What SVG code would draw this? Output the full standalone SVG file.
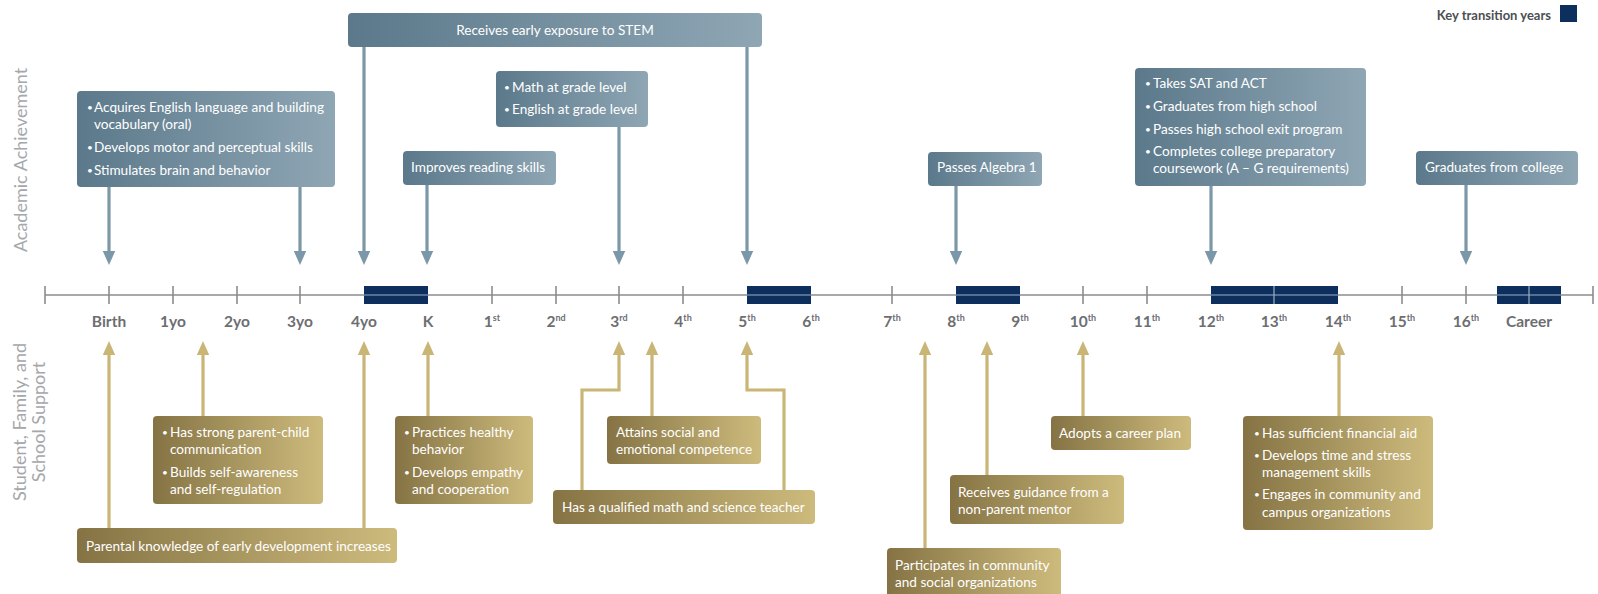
<svg xmlns="http://www.w3.org/2000/svg" width="1598" height="594" viewBox="0 0 1598 594">
<defs>
<linearGradient id="gBlue" x1="0" y1="0" x2="1" y2="0">
<stop offset="0" stop-color="#5b798b"/>
<stop offset="1" stop-color="#8fa6b4"/>
</linearGradient>
<linearGradient id="gGold" x1="0" y1="0" x2="1" y2="0">
<stop offset="0" stop-color="#857344"/>
<stop offset="1" stop-color="#cdbb7d"/>
</linearGradient>
<marker id="aBlue" markerWidth="5" markerHeight="4" refX="2" refY="2" orient="auto" markerUnits="strokeWidth">
<path d="M0,0 L4.5,2 L0,4 Z" fill="#7b97a8"/>
</marker>
<marker id="aGold" markerWidth="5" markerHeight="4" refX="2" refY="2" orient="auto" markerUnits="strokeWidth">
<path d="M0,0 L4.5,2 L0,4 Z" fill="#c9b676"/>
</marker>
</defs>
<style>
text{font-family:Lato,"Liberation Sans",sans-serif}
.bb{fill:url(#gBlue)}
.gb{fill:url(#gGold)}
.t{fill:#ffffff;font-size:13.6px}
.bu{fill:#ffffff;font-size:10px}
.ax{fill:#6d6e71;font-size:15.5px;font-weight:bold;text-anchor:middle}
.sup{font-size:9px}
.side{fill:#a5a7aa;font-size:18px;text-anchor:middle}
.cb{stroke:#7b97a8;stroke-width:3.2;fill:none;marker-end:url(#aBlue)}
.cg{stroke:#c9b676;stroke-width:3.2;fill:none;marker-end:url(#aGold)}
.tick{stroke:#8a8c8f;stroke-width:1.6}
.key{fill:#0c2f5e}
.kl{stroke:#9fb0c2;stroke-width:1.2}
</style>

<g id="legend">
<text x="1551" y="20" text-anchor="end" style="fill:#4d4f52;font-size:13px;font-weight:bold">Key transition years</text>
<rect class="key" x="1560" y="5" width="17" height="17"/>
</g>

<g id="side-labels">
<text class="side" transform="translate(27,160) rotate(-90)">Academic Achievement</text>
<text class="side" transform="translate(26,422) rotate(-90)">Student, Family, and</text>
<text class="side" transform="translate(45,422) rotate(-90)">School Support</text>
</g>

<g id="timeline">
<line x1="45" y1="295" x2="1593" y2="295" stroke="#8a8c8f" stroke-width="1.6"/>
<g>
<line class="tick" x1="45" y1="286" x2="45" y2="304"/>
<line class="tick" x1="109" y1="286" x2="109" y2="304"/>
<line class="tick" x1="173" y1="286" x2="173" y2="304"/>
<line class="tick" x1="237" y1="286" x2="237" y2="304"/>
<line class="tick" x1="300" y1="286" x2="300" y2="304"/>
<line class="tick" x1="492" y1="286" x2="492" y2="304"/>
<line class="tick" x1="556" y1="286" x2="556" y2="304"/>
<line class="tick" x1="619" y1="286" x2="619" y2="304"/>
<line class="tick" x1="683" y1="286" x2="683" y2="304"/>
<line class="tick" x1="892" y1="286" x2="892" y2="304"/>
<line class="tick" x1="1083" y1="286" x2="1083" y2="304"/>
<line class="tick" x1="1147" y1="286" x2="1147" y2="304"/>
<line class="tick" x1="1402" y1="286" x2="1402" y2="304"/>
<line class="tick" x1="1466" y1="286" x2="1466" y2="304"/>
<line class="tick" x1="1593" y1="286" x2="1593" y2="304"/>
</g>
<g>
<rect class="key" x="364" y="286" width="64" height="18"/>
<rect class="key" x="747" y="286" width="64" height="18"/>
<rect class="key" x="956" y="286" width="64" height="18"/>
<rect class="key" x="1211" y="286" width="127" height="18"/>
<rect class="key" x="1497" y="286" width="64" height="18"/>
<line class="kl" x1="364" y1="295" x2="428" y2="295"/>
<line class="kl" x1="747" y1="295" x2="811" y2="295"/>
<line class="kl" x1="956" y1="295" x2="1020" y2="295"/>
<line class="kl" x1="1211" y1="295" x2="1338" y2="295"/>
<line class="kl" x1="1497" y1="295" x2="1561" y2="295"/>
<line class="kl" x1="1274" y1="286" x2="1274" y2="304"/>
<line class="kl" x1="1529" y1="286" x2="1529" y2="304"/>
</g>
<g>
<text class="ax" x="109" y="327">Birth</text>
<text class="ax" x="173" y="327">1yo</text>
<text class="ax" x="237" y="327">2yo</text>
<text class="ax" x="300" y="327">3yo</text>
<text class="ax" x="364" y="327">4yo</text>
<text class="ax" x="428" y="327">K</text>
<text class="ax" x="492" y="327">1<tspan class="sup" dy="-6">st</tspan></text>
<text class="ax" x="556" y="327">2<tspan class="sup" dy="-6">nd</tspan></text>
<text class="ax" x="619" y="327">3<tspan class="sup" dy="-6">rd</tspan></text>
<text class="ax" x="683" y="327">4<tspan class="sup" dy="-6">th</tspan></text>
<text class="ax" x="747" y="327">5<tspan class="sup" dy="-6">th</tspan></text>
<text class="ax" x="811" y="327">6<tspan class="sup" dy="-6">th</tspan></text>
<text class="ax" x="892" y="327">7<tspan class="sup" dy="-6">th</tspan></text>
<text class="ax" x="956" y="327">8<tspan class="sup" dy="-6">th</tspan></text>
<text class="ax" x="1020" y="327">9<tspan class="sup" dy="-6">th</tspan></text>
<text class="ax" x="1083" y="327">10<tspan class="sup" dy="-6">th</tspan></text>
<text class="ax" x="1147" y="327">11<tspan class="sup" dy="-6">th</tspan></text>
<text class="ax" x="1211" y="327">12<tspan class="sup" dy="-6">th</tspan></text>
<text class="ax" x="1274" y="327">13<tspan class="sup" dy="-6">th</tspan></text>
<text class="ax" x="1338" y="327">14<tspan class="sup" dy="-6">th</tspan></text>
<text class="ax" x="1402" y="327">15<tspan class="sup" dy="-6">th</tspan></text>
<text class="ax" x="1466" y="327">16<tspan class="sup" dy="-6">th</tspan></text>
<text class="ax" x="1529" y="327">Career</text>
</g>
</g>

<g id="connectors">
<path class="cb" d="M109,187 V257"/>
<path class="cb" d="M300,187 V257"/>
<path class="cb" d="M364,47 V257"/>
<path class="cb" d="M747,47 V257"/>
<path class="cb" d="M427,185 V257"/>
<path class="cb" d="M619,127 V257"/>
<path class="cb" d="M956,186 V257"/>
<path class="cb" d="M1211,186 V257"/>
<path class="cb" d="M1466,185 V257"/>
<path class="cg" d="M109,528 V349"/>
<path class="cg" d="M364,528 V349"/>
<path class="cg" d="M203,416 V349"/>
<path class="cg" d="M428,416 V349"/>
<path class="cg" d="M652,416 V349"/>
<path class="cg" d="M582,490 V390 H619 V349"/>
<path class="cg" d="M784,490 V390 H747 V349"/>
<path class="cg" d="M925,548 V349"/>
<path class="cg" d="M987,475 V349"/>
<path class="cg" d="M1083,416 V349"/>
<path class="cg" d="M1339,416 V349"/>
</g>

<g id="n-stem">
<rect class="bb" x="348" y="13" width="414" height="34" rx="4"/>
<text class="t" x="555" y="35" text-anchor="middle">Receives early exposure to STEM</text>
</g>
<g id="n-english">
<rect class="bb" x="77" y="91" width="258" height="96" rx="4"/>
<text class="bu" x="87" y="111">•</text>
<text class="t" x="94" y="112">Acquires English language and building</text>
<text class="t" x="94" y="129">vocabulary (oral)</text>
<text class="bu" x="87" y="151">•</text>
<text class="t" x="94" y="152">Develops motor and perceptual skills</text>
<text class="bu" x="87" y="174">•</text>
<text class="t" x="94" y="175">Stimulates brain and behavior</text>
</g>
<g id="n-math">
<rect class="bb" x="496" y="71" width="152" height="56" rx="4"/>
<text class="bu" x="504" y="91">•</text>
<text class="t" x="512" y="92">Math at grade level</text>
<text class="bu" x="504" y="113">•</text>
<text class="t" x="512" y="114">English at grade level</text>
</g>
<g id="n-reading">
<rect class="bb" x="403" y="151" width="153" height="34" rx="4"/>
<text class="t" x="411" y="172">Improves reading skills</text>
</g>
<g id="n-algebra">
<rect class="bb" x="928" y="152" width="114" height="34" rx="4"/>
<text class="t" x="937" y="172">Passes Algebra 1</text>
</g>
<g id="n-highschool">
<rect class="bb" x="1135" y="68" width="231" height="118" rx="4"/>
<text class="bu" x="1145" y="87">•</text>
<text class="t" x="1153" y="88">Takes SAT and ACT</text>
<text class="bu" x="1145" y="110">•</text>
<text class="t" x="1153" y="111">Graduates from high school</text>
<text class="bu" x="1145" y="133">•</text>
<text class="t" x="1153" y="134">Passes high school exit program</text>
<text class="bu" x="1145" y="155">•</text>
<text class="t" x="1153" y="156">Completes college preparatory</text>
<text class="t" x="1153" y="173">coursework (A – G requirements)</text>
</g>
<g id="n-college">
<rect class="bb" x="1416" y="151" width="162" height="34" rx="4"/>
<text class="t" x="1425" y="172">Graduates from college</text>
</g>

<g id="n-parental">
<rect class="gb" x="77" y="528" width="320" height="35" rx="4"/>
<text class="t" x="86" y="551">Parental knowledge of early development increases</text>
</g>
<g id="n-parentchild">
<rect class="gb" x="153" y="416" width="170" height="88" rx="4"/>
<text class="bu" x="162" y="436">•</text>
<text class="t" x="170" y="437">Has strong parent-child</text>
<text class="t" x="170" y="454">communication</text>
<text class="bu" x="162" y="476">•</text>
<text class="t" x="170" y="477">Builds self-awareness</text>
<text class="t" x="170" y="494">and self-regulation</text>
</g>
<g id="n-healthy">
<rect class="gb" x="395" y="416" width="138" height="88" rx="4"/>
<text class="bu" x="404" y="436">•</text>
<text class="t" x="412" y="437">Practices healthy</text>
<text class="t" x="412" y="454">behavior</text>
<text class="bu" x="404" y="476">•</text>
<text class="t" x="412" y="477">Develops empathy</text>
<text class="t" x="412" y="494">and cooperation</text>
</g>
<g id="n-social">
<rect class="gb" x="607" y="416" width="154" height="48" rx="4"/>
<text class="t" x="616" y="437">Attains social and</text>
<text class="t" x="616" y="454">emotional competence</text>
</g>
<g id="n-teacher">
<rect class="gb" x="553" y="490" width="262" height="34" rx="4"/>
<text class="t" x="562" y="512">Has a qualified math and science teacher</text>
</g>
<g id="n-community">
<rect class="gb" x="887" y="548" width="174" height="52" rx="4"/>
<text class="t" x="895" y="570">Participates in community</text>
<text class="t" x="895" y="587">and social organizations</text>
</g>
<g id="n-mentor">
<rect class="gb" x="950" y="475" width="174" height="49" rx="4"/>
<text class="t" x="958" y="497">Receives guidance from a</text>
<text class="t" x="958" y="514">non-parent mentor</text>
</g>
<g id="n-career">
<rect class="gb" x="1051" y="416" width="140" height="34" rx="4"/>
<text class="t" x="1059" y="438">Adopts a career plan</text>
</g>
<g id="n-financial">
<rect class="gb" x="1243" y="416" width="190" height="114" rx="4"/>
<text class="bu" x="1254" y="437">•</text>
<text class="t" x="1262" y="438">Has sufficient financial aid</text>
<text class="bu" x="1254" y="459">•</text>
<text class="t" x="1262" y="460">Develops time and stress</text>
<text class="t" x="1262" y="477">management skills</text>
<text class="bu" x="1254" y="498">•</text>
<text class="t" x="1262" y="499">Engages in community and</text>
<text class="t" x="1262" y="517">campus organizations</text>
</g>
</svg>
